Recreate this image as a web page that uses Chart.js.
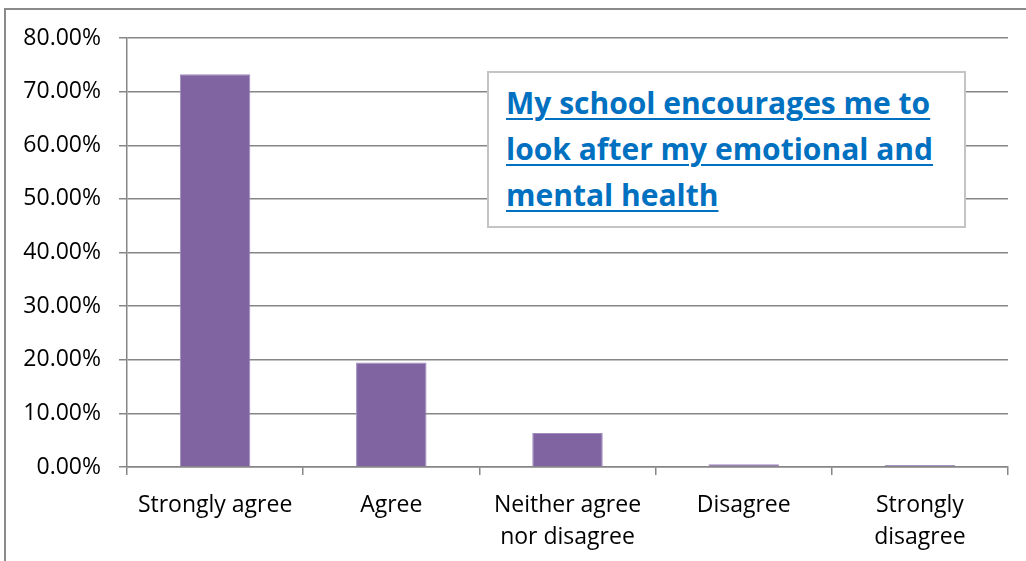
<!DOCTYPE html>
<html lang="en">
<head>
    <meta charset="UTF-8">
    <title>My school encourages me to look after my emotional and mental health</title>
    <script src="https://cdn.jsdelivr.net/npm/chart.js"></script>
    <style>
        body { margin: 0; background: #fff; }
        .wrap { position: relative; width: 1026px; height: 561px; overflow: hidden; }
        .frame {
            position: absolute; left: 4px; top: 8px; width: 1100px; height: 600px;
            border-top: 2px solid #8a8a8a; border-left: 2px solid #8a8a8a;
        }
        canvas { position: absolute; left: 0; top: 0; }
        .titlebox {
            position: absolute; left: 487px; top: 71px; width: 458px; height: 153px;
            border: 2px solid #c4c4c4; background: #fff;
            font-family: "Open Sans", sans-serif; font-weight: bold; font-size: 30px;
            line-height: 46px; color: #0070C0; padding: 0 0 0 17px; box-sizing: content-box;
            white-space: nowrap;
        }
        .titlebox span { text-decoration: underline; text-decoration-thickness: 2px; text-underline-offset: 4px; }
        .titlebox div { padding-top: 7px; }
    </style>
</head>
<body>
    <div class="wrap">
        <div class="frame"></div>
        <canvas id="chart" width="1026" height="561"></canvas>
        <div class="titlebox"><div><span>My school encourages me to<br>look after my emotional and<br>mental health</span></div></div>
    </div>

    <script>
        // responses (percent of pupils)
        const categories = [['Strongly agree'], ['Agree'], ['Neither agree', 'nor disagree'], ['Disagree'], ['Strongly', 'disagree']];
        const percentages = [73.25, 19.5, 6.35, 0.5, 0.35];
        const yTicks = [0, 10, 20, 30, 40, 50, 60, 70, 80];

        const gridGrey = '#868686';
        const labelFont = { family: 'Open Sans', size: 23, lineHeight: 1.4 };

        const ctx = document.getElementById('chart').getContext('2d');
        new Chart(ctx, {
            type: 'bar',
            data: {
                labels: categories,
                datasets: [{
                    data: percentages,
                    backgroundColor: '#8064A2',
                    borderColor: '#a08cbd',
                    borderWidth: 1,
                    categoryPercentage: 1,
                    barPercentage: 0.4
                }]
            },
            options: {
                responsive: false,
                animation: false,
                layout: { padding: { left: 0, right: 18, top: 38, bottom: 0 } },
                plugins: { legend: { display: false }, tooltip: { enabled: false } },
                scales: {
                    x: {
                        afterFit: function(scale) { scale.height = 94; },
                        grid: { offset: true, drawOnChartArea: false, tickLength: 8, color: gridGrey, lineWidth: 1.5 },
                        border: { color: gridGrey, width: 1.5 },
                        ticks: { color: '#000', font: labelFont, padding: 14, maxRotation: 0, autoSkip: false }
                    },
                    y: {
                        min: yTicks[0],
                        max: yTicks[yTicks.length - 1],
                        afterFit: function(scale) { scale.width = 127; },
                        afterBuildTicks: function(scale) { scale.ticks = yTicks.map(v => ({ value: v })); },
                        grid: { color: gridGrey, lineWidth: 1.5, tickLength: 8 },
                        border: { color: gridGrey, width: 1.5 },
                        ticks: {
                            color: '#000', font: labelFont, padding: 18,
                            callback: v => v.toFixed(2) + '%'
                        }
                    }
                }
            }
        });
    </script>
</body>
</html>
